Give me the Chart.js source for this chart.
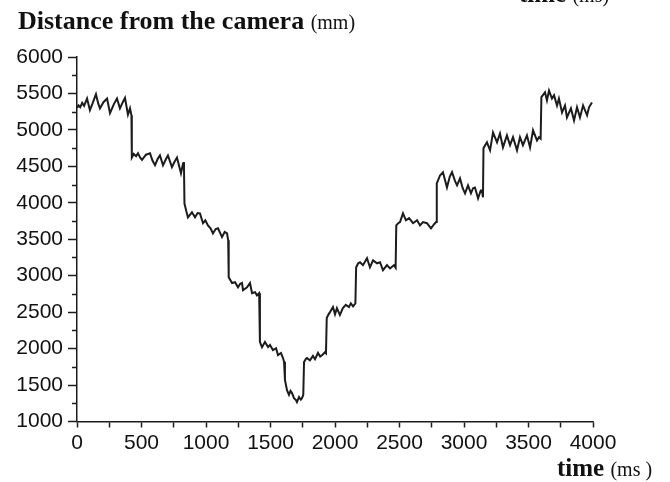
<!DOCTYPE html>
<html>
<head>
<meta charset="utf-8">
<script src="https://cdn.jsdelivr.net/npm/chart.js@4"></script>
<style>
    body { margin: 0; background: #fff; }
    #wrap { position: relative; width: 670px; height: 482px; overflow: hidden; background: #fff; }
    #chart { position: absolute; left: 0; top: 0; }
    .lbl { position: absolute; font-family: "Liberation Serif", serif; font-weight: bold; font-size: 25px; line-height: 1; color: #111; white-space: nowrap; }
    .lbl span { font-weight: normal; font-size: 20px; }
</style>
</head>
<body>
<div id="wrap">
    <canvas id="chart" width="670" height="482"></canvas>
    <div class="lbl" style="left:519px; top:-19.5px;">time <span>(ms)</span></div>
    <div class="lbl" style="left:18px; top:8px; font-size:26px;">Distance from the camera <span>(mm)</span></div>
    <div class="lbl" style="left:557px; top:455px;">time <span>(ms )</span></div>
</div>
<script>
const timeMs = [
    0, 12, 25, 40, 55, 78, 100, 120, 147, 165, 178, 205, 233, 256, 285, 310, 333, 355, 372, 395, 411, 422,
    425, 440, 458, 473, 490, 504, 535, 566, 585, 605, 625, 643, 667, 690, 705, 736, 755, 775, 806, 822, 829,
    833, 848, 860, 891, 915, 935, 953, 977, 995, 1015, 1035, 1054, 1075, 1093, 1124, 1145, 1163, 1172,
    1176, 1202, 1225, 1248, 1265, 1279, 1287, 1318, 1341, 1357, 1380, 1395, 1412,
    1418, 1434, 1457, 1481, 1496, 1519, 1543, 1558, 1581, 1597, 1605,
    1612, 1628, 1643, 1655, 1667, 1682, 1695, 1705, 1721, 1735, 1744, 1754,
    1760, 1775, 1783, 1806, 1829, 1845, 1868, 1885, 1899, 1922, 1930,
    1936, 1950, 1961, 1984, 2000, 2015, 2038, 2061, 2084, 2108, 2123, 2140, 2158,
    2164, 2180, 2194, 2217, 2248, 2271, 2295, 2326, 2349, 2372, 2403, 2426, 2457, 2470,
    2475, 2490, 2504, 2527, 2550, 2574, 2605, 2636, 2659, 2682, 2713, 2744, 2770, 2784,
    2789, 2814, 2837, 2868, 2890, 2907, 2930, 2946, 2969, 2990, 3008, 3031, 3054, 3070, 3085, 3109, 3130, 3140, 3147,
    3151, 3178, 3202, 3225, 3256, 3279, 3302, 3333, 3357, 3380, 3411, 3434, 3457, 3488, 3512, 3535, 3566, 3581, 3594,
    3600, 3628, 3643, 3659, 3682, 3698, 3721, 3736, 3760, 3783, 3798, 3829, 3853, 3876, 3899, 3923, 3954, 3969, 3992
];
const distanceMm = [
    5300, 5335, 5310, 5370, 5330, 5430, 5270, 5360, 5490, 5360, 5295, 5380, 5430, 5230, 5350, 5430, 5295, 5380, 5440, 5210, 5295, 5200,
    4620, 4670, 4640, 4680, 4620, 4590, 4660, 4680, 4580, 4515, 4600, 4650, 4515, 4600, 4650, 4490, 4560, 4620, 4405, 4540, 4560,
    3990, 3880, 3800, 3870, 3800, 3860, 3855, 3720, 3760, 3690, 3650, 3580, 3640, 3650, 3530, 3600, 3580, 3485,
    2980, 2900, 2910, 2840, 2890, 2900, 2800, 2840, 2900, 2760, 2775, 2730, 2760,
    2090, 2020, 2090, 2020, 2050, 1980, 2005, 1910, 1940, 1870, 1820,
    1570, 1430, 1365, 1420, 1390, 1320, 1300, 1265, 1335, 1300, 1320, 1365,
    1815, 1860, 1870, 1840, 1900, 1855, 1940, 1890, 1910, 1950, 1935,
    2420, 2470, 2500, 2570, 2470, 2555, 2460, 2555, 2600, 2570, 2620, 2580, 2620,
    3115, 3170, 3185, 3145, 3240, 3115, 3210, 3170, 3185, 3075, 3145, 3100, 3145, 3110,
    3690, 3720, 3735, 3855, 3760, 3790, 3720, 3760, 3690, 3735, 3720, 3650, 3710, 3735,
    4265, 4375, 4420, 4210, 4360, 4420, 4300, 4240, 4335, 4200, 4130, 4240, 4130, 4200, 4210, 4060, 4170, 4170, 4075,
    4750, 4830, 4720, 4965, 4830, 4950, 4760, 4925, 4790, 4900, 4720, 4900, 4790, 4925, 4760, 4995, 4855, 4900, 4880,
    5450, 5515, 5405, 5540, 5430, 5475, 5335, 5430, 5240, 5335, 5170, 5295, 5130, 5310, 5170, 5335, 5200, 5310, 5375
];
const xTicks = [0, 500, 1000, 1500, 2000, 2500, 3000, 3500, 4000];
const yTicks = [1000, 1500, 2000, 2500, 3000, 3500, 4000, 4500, 5000, 5500, 6000];

const ink = '#1c1c1c';
const tickFont = { family: '"Liberation Sans", Arial, sans-serif', size: 21 };

// short minor ticks halfway between the labelled y ticks
const minorTicks = {
    id: 'minorTicks',
    afterDraw(chart) {
        const y = chart.scales.y;
        const ctx = chart.ctx;
        ctx.save();
        ctx.strokeStyle = ink;
        ctx.lineWidth = 1.5;
        for (let i = 0; i < yTicks.length - 1; i++) {
            const py = Math.round(y.getPixelForValue((yTicks[i] + yTicks[i + 1]) / 2)) + 0.5;
            ctx.beginPath();
            ctx.moveTo(y.right - 5, py);
            ctx.lineTo(y.right, py);
            ctx.stroke();
        }
        ctx.restore();
    }
};

new Chart(document.getElementById('chart'), {
    type: 'line',
    data: {
        datasets: [{
            data: timeMs.map((t, i) => ({ x: t, y: distanceMm[i] })),
            borderColor: ink,
            borderWidth: 2,
            pointRadius: 0,
            tension: 0,
            fill: false
        }]
    },
    options: {
        responsive: false,
        animation: false,
        devicePixelRatio: 1,
        layout: { padding: { top: 57, right: 77, bottom: 0, left: 0 } },
        plugins: { legend: { display: false }, tooltip: { enabled: false } },
        scales: {
            x: {
                type: 'linear',
                min: 0,
                max: 4000,
                afterFit(scale) { scale.height = 60.5; },
                ticks: {
                    stepSize: 250,
                    autoSkip: false,
                    maxRotation: 0,
                    padding: 3,
                    color: '#111',
                    font: tickFont,
                    callback: v => (xTicks.includes(v) ? String(v) : '')
                },
                grid: { drawOnChartArea: false, tickLength: 6, tickColor: ink, tickWidth: 1.5 },
                border: { display: true, color: ink, width: 1.5 }
            },
            y: {
                type: 'linear',
                min: 1000,
                max: 6000,
                afterFit(scale) { scale.width = 77; },
                ticks: {
                    stepSize: 500,
                    padding: 5,
                    color: '#111',
                    font: tickFont,
                    callback: v => String(v)
                },
                grid: { drawOnChartArea: false, tickLength: 9, tickColor: ink, tickWidth: 1.5 },
                border: { display: true, color: ink, width: 1.5 }
            }
        }
    },
    plugins: [minorTicks]
});
</script>
</body>
</html>
